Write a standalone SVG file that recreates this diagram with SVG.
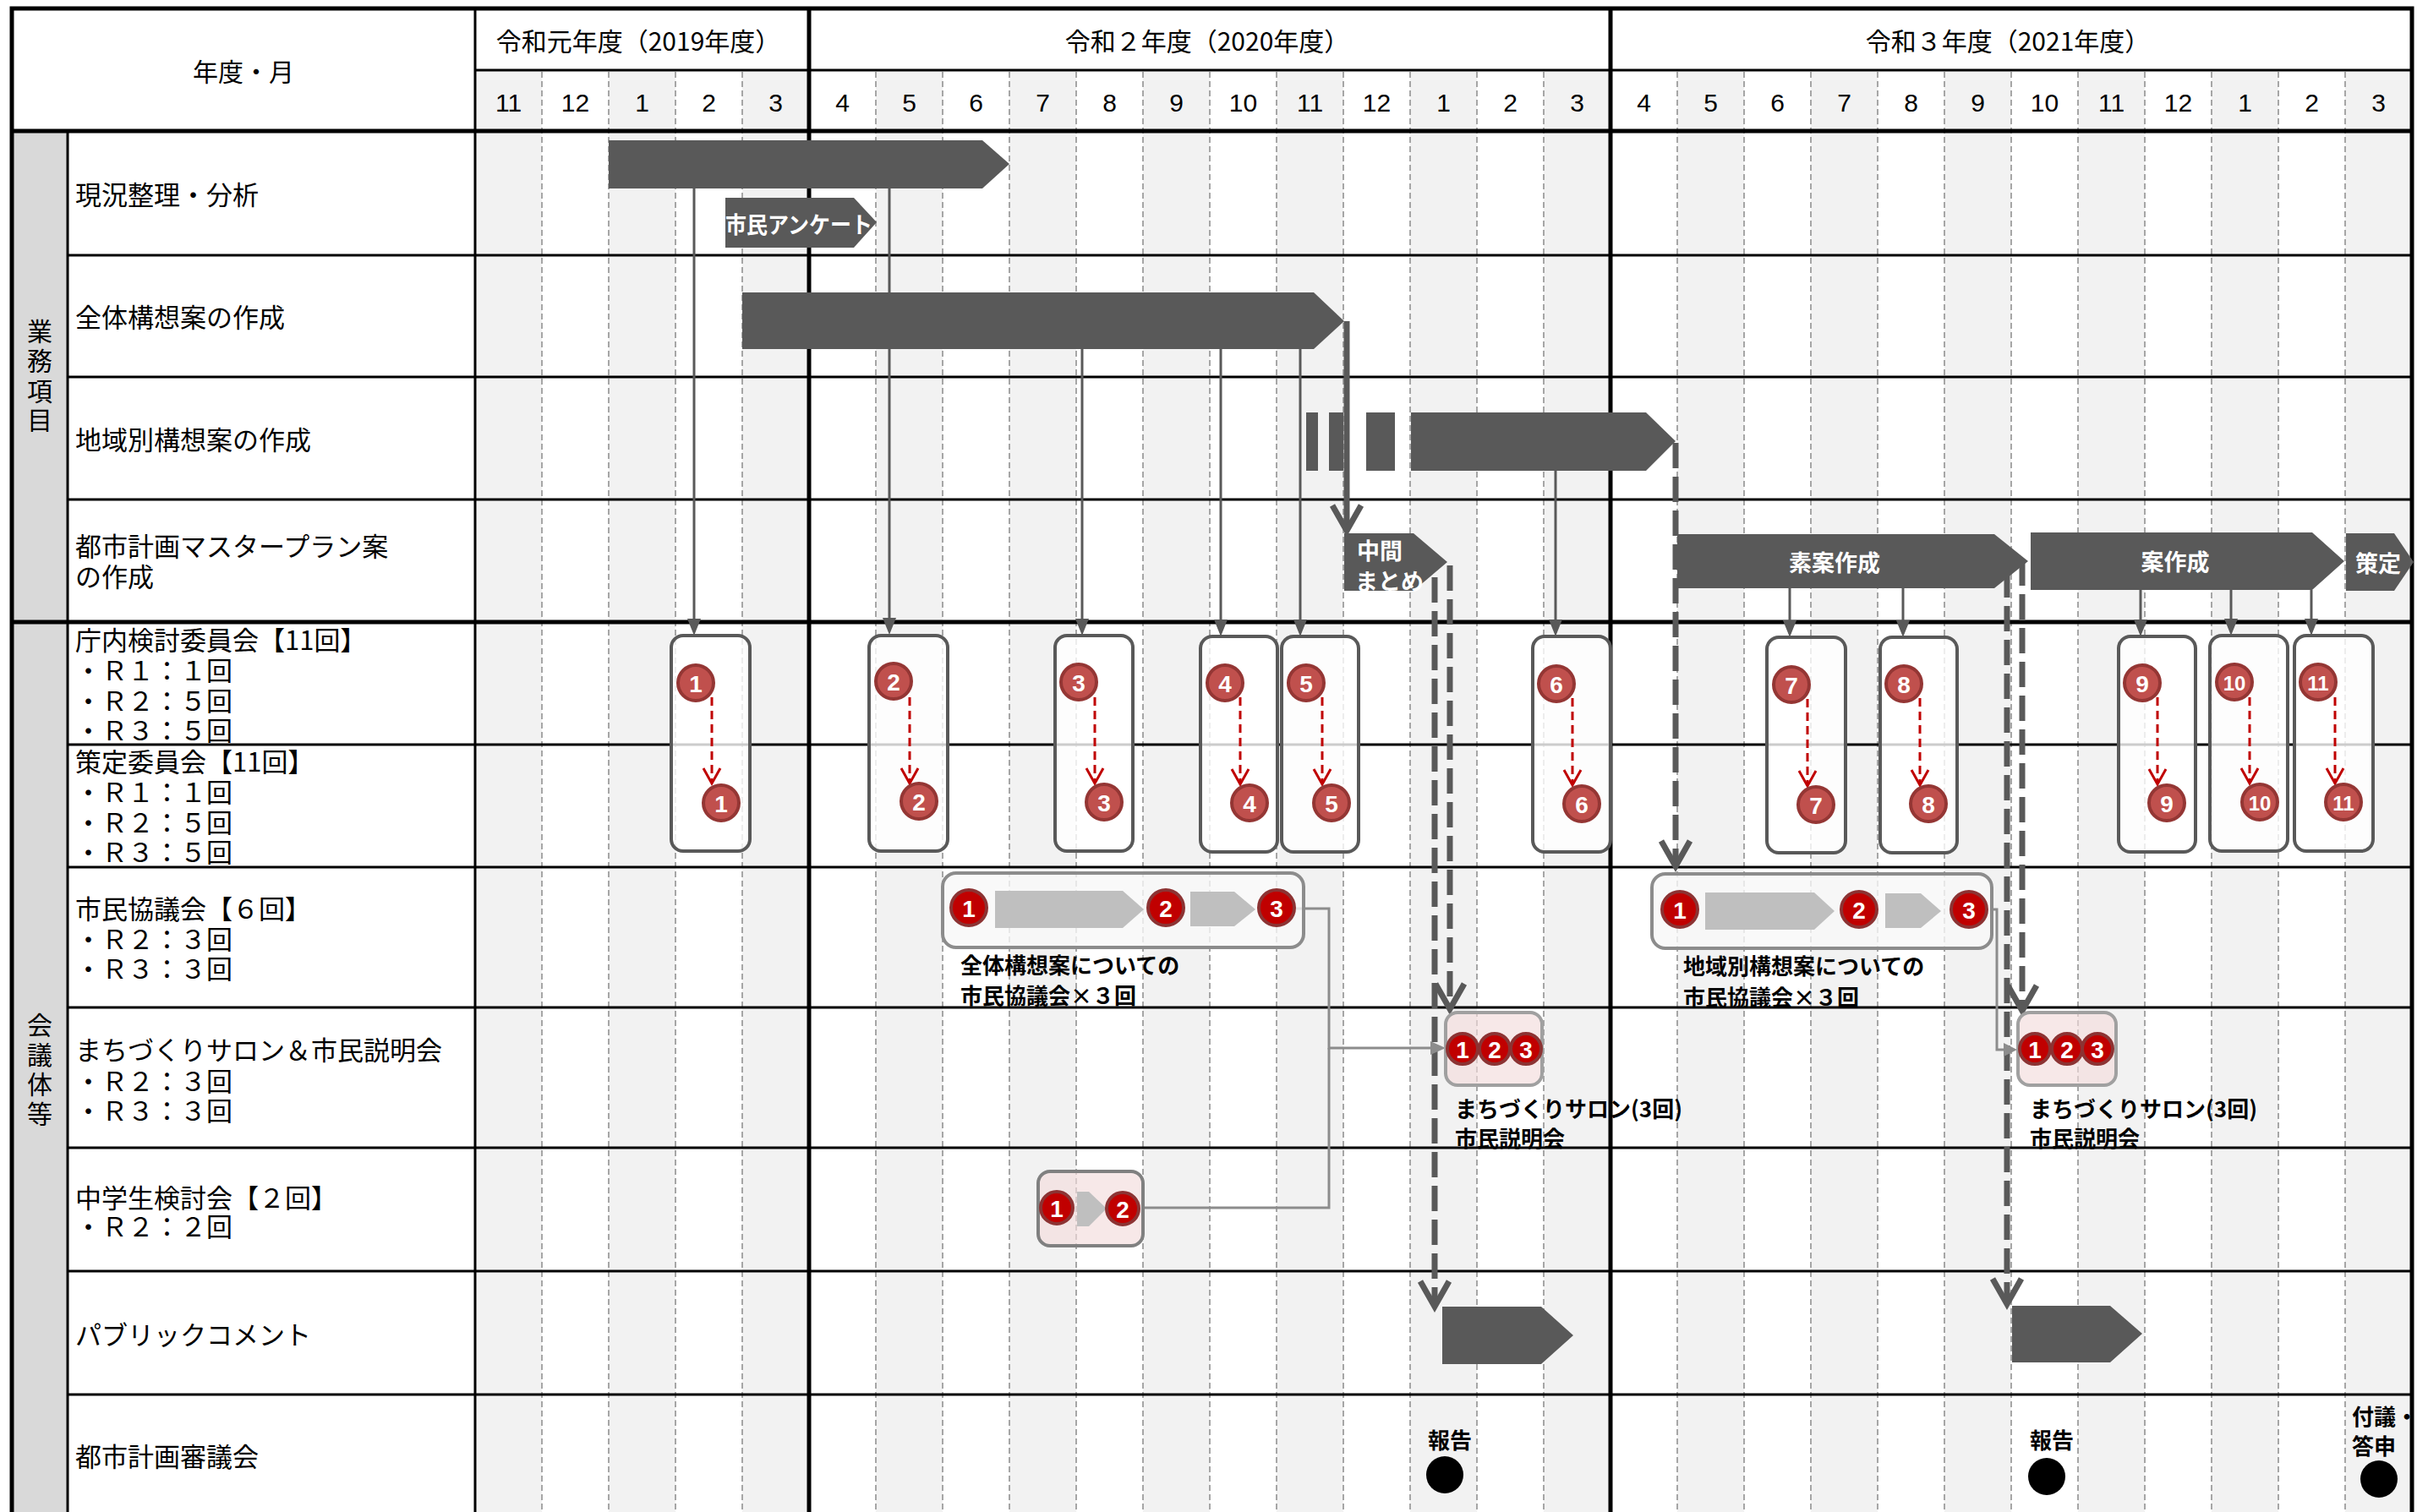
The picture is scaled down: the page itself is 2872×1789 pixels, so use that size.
<svg xmlns="http://www.w3.org/2000/svg" width="2872" height="1789" viewBox="0 0 2872 1789">
<style>
.lbl{font-family:"Noto Sans CJK JP","Noto Sans",sans-serif;font-size:31px;fill:#000;dominant-baseline:central}
.cat{font-family:"Noto Sans CJK JP",sans-serif;font-size:30px;fill:#000;text-anchor:middle;dominant-baseline:central}
.yr{font-family:"Noto Sans CJK JP",sans-serif;font-size:30px;fill:#000;text-anchor:middle;dominant-baseline:central}
.mon{font-family:"Liberation Sans Narrow","Liberation Sans",sans-serif;font-size:30px;fill:#000;text-anchor:middle;dominant-baseline:central}
.bar{fill:#595959}
.wt{font-family:"Noto Sans CJK JP",sans-serif;font-weight:bold;fill:#fff;font-size:27px;dominant-baseline:central}
.bt{font-family:"Noto Sans CJK JP",sans-serif;font-weight:bold;fill:#000;font-size:26px;dominant-baseline:central}
.shade{fill:#f2f2f2}
.mdash{stroke:#a6a6a6;stroke-width:2;stroke-dasharray:7 4}
.thick{stroke:#000;stroke-width:5}
.med{stroke:#000;stroke-width:3}
.cbox{fill:#fff;fill-opacity:0.8;stroke:#595959;stroke-width:4}
.gbox{fill:#f7f7f7;fill-opacity:0.8;stroke:#8c8c8c;stroke-width:4}
.pbox{fill:#f2dcdb;fill-opacity:0.65;stroke:#a0a0a0;stroke-width:4}
.c1{fill:#c0504d;stroke:#943634;stroke-width:4}
.c2{fill:#c00000;stroke:#8c3333;stroke-width:4}
.num{font-family:"Liberation Sans",sans-serif;font-weight:bold;fill:#fff;font-size:28px;text-anchor:middle;dominant-baseline:central}
.num2{font-family:"Liberation Sans Narrow","Liberation Sans",sans-serif;font-weight:bold;fill:#fff;font-size:24px;text-anchor:middle;dominant-baseline:central}
.garr{stroke:#595959;stroke-width:3;fill:none}
.rd{stroke:#c00000;stroke-width:3;stroke-dasharray:10 6;fill:none}
.rv{stroke:#c00000;stroke-width:3;fill:none}
.tdash{stroke:#595959;stroke-width:7;stroke-dasharray:30 10;fill:none}
.tv{stroke:#595959;stroke-width:7;fill:none;stroke-linejoin:miter}
.conn{stroke:#8c8c8c;stroke-width:3;fill:none}
.gray{fill:#bfbfbf}
</style>

<g id="grid">
  <rect x="14" y="10" width="2839" height="1782" fill="#fff"/>
  <rect x="14" y="155" width="66" height="1637" fill="#d9d9d9"/>
  <g id="shading">
    <rect class="shade" x="562" y="83" width="79" height="1709"/>
    <rect class="shade" x="720" y="83" width="79" height="1709"/>
    <rect class="shade" x="878" y="83" width="79" height="1709"/>
    <rect class="shade" x="1036" y="83" width="79" height="1709"/>
    <rect class="shade" x="1194" y="83" width="79" height="1709"/>
    <rect class="shade" x="1352" y="83" width="79" height="1709"/>
    <rect class="shade" x="1510" y="83" width="79" height="1709"/>
    <rect class="shade" x="1668" y="83" width="79" height="1709"/>
    <rect class="shade" x="1826" y="83" width="79" height="1709"/>
    <rect class="shade" x="1984" y="83" width="79" height="1709"/>
    <rect class="shade" x="2142" y="83" width="79" height="1709"/>
    <rect class="shade" x="2300" y="83" width="79" height="1709"/>
    <rect class="shade" x="2458" y="83" width="79" height="1709"/>
    <rect class="shade" x="2616" y="83" width="79" height="1709"/>
    <rect class="shade" x="2774" y="83" width="79" height="1709"/>
  </g>
  <g id="month-dashes">
    <line class="mdash" x1="641" y1="85" x2="641" y2="1792"/>
    <line class="mdash" x1="720" y1="85" x2="720" y2="1792"/>
    <line class="mdash" x1="799" y1="85" x2="799" y2="1792"/>
    <line class="mdash" x1="878" y1="85" x2="878" y2="1792"/>
    <line class="mdash" x1="1036" y1="85" x2="1036" y2="1792"/>
    <line class="mdash" x1="1115" y1="85" x2="1115" y2="1792"/>
    <line class="mdash" x1="1194" y1="85" x2="1194" y2="1792"/>
    <line class="mdash" x1="1273" y1="85" x2="1273" y2="1792"/>
    <line class="mdash" x1="1352" y1="85" x2="1352" y2="1792"/>
    <line class="mdash" x1="1431" y1="85" x2="1431" y2="1792"/>
    <line class="mdash" x1="1510" y1="85" x2="1510" y2="1792"/>
    <line class="mdash" x1="1589" y1="85" x2="1589" y2="1792"/>
    <line class="mdash" x1="1668" y1="85" x2="1668" y2="1792"/>
    <line class="mdash" x1="1747" y1="85" x2="1747" y2="1792"/>
    <line class="mdash" x1="1826" y1="85" x2="1826" y2="1792"/>
    <line class="mdash" x1="1984" y1="85" x2="1984" y2="1792"/>
    <line class="mdash" x1="2063" y1="85" x2="2063" y2="1792"/>
    <line class="mdash" x1="2142" y1="85" x2="2142" y2="1792"/>
    <line class="mdash" x1="2221" y1="85" x2="2221" y2="1792"/>
    <line class="mdash" x1="2300" y1="85" x2="2300" y2="1792"/>
    <line class="mdash" x1="2379" y1="85" x2="2379" y2="1792"/>
    <line class="mdash" x1="2458" y1="85" x2="2458" y2="1792"/>
    <line class="mdash" x1="2537" y1="85" x2="2537" y2="1792"/>
    <line class="mdash" x1="2616" y1="85" x2="2616" y2="1792"/>
    <line class="mdash" x1="2695" y1="85" x2="2695" y2="1792"/>
    <line class="mdash" x1="2774" y1="85" x2="2774" y2="1792"/>
  </g>
  <g id="rules">
    <line class="med" x1="80" y1="302" x2="2853" y2="302"/>
    <line class="med" x1="80" y1="446" x2="2853" y2="446"/>
    <line class="med" x1="80" y1="591" x2="2853" y2="591"/>
    <line class="med" x1="80" y1="881" x2="2853" y2="881"/>
    <line class="med" x1="80" y1="1026" x2="2853" y2="1026"/>
    <line class="med" x1="80" y1="1192" x2="2853" y2="1192"/>
    <line class="med" x1="80" y1="1358" x2="2853" y2="1358"/>
    <line class="med" x1="80" y1="1504" x2="2853" y2="1504"/>
    <line class="med" x1="80" y1="1650" x2="2853" y2="1650"/>
    <line class="med" x1="562" y1="83" x2="2853" y2="83"/>
    <line class="thick" x1="14" y1="155" x2="2853" y2="155"/>
    <line class="thick" x1="14" y1="736" x2="2853" y2="736"/>
    <line class="med" x1="80" y1="155" x2="80" y2="1792"/>
    <line class="med" x1="562" y1="10" x2="562" y2="1792"/>
    <line class="thick" x1="957" y1="10" x2="957" y2="1792"/>
    <line class="thick" x1="1905" y1="10" x2="1905" y2="1792"/>
    <rect x="14" y="10" width="2839" height="1782" fill="none" stroke="#000" stroke-width="5"/>
  </g>
</g>

<g id="header">
  <text class="yr" x="288" y="83">年度・月</text>
  <text class="yr" x="755" y="47">令和元年度（2019年度）</text>
  <text class="yr" x="1428" y="47">令和２年度（2020年度）</text>
  <text class="yr" x="2375" y="47">令和３年度（2021年度）</text>
  <text class="mon" x="601.5" y="121">11</text>
  <text class="mon" x="680.5" y="121">12</text>
  <text class="mon" x="759.5" y="121">1</text>
  <text class="mon" x="838.5" y="121">2</text>
  <text class="mon" x="917.5" y="121">3</text>
  <text class="mon" x="996.5" y="121">4</text>
  <text class="mon" x="1075.5" y="121">5</text>
  <text class="mon" x="1154.5" y="121">6</text>
  <text class="mon" x="1233.5" y="121">7</text>
  <text class="mon" x="1312.5" y="121">8</text>
  <text class="mon" x="1391.5" y="121">9</text>
  <text class="mon" x="1470.5" y="121">10</text>
  <text class="mon" x="1549.5" y="121">11</text>
  <text class="mon" x="1628.5" y="121">12</text>
  <text class="mon" x="1707.5" y="121">1</text>
  <text class="mon" x="1786.5" y="121">2</text>
  <text class="mon" x="1865.5" y="121">3</text>
  <text class="mon" x="1944.5" y="121">4</text>
  <text class="mon" x="2023.5" y="121">5</text>
  <text class="mon" x="2102.5" y="121">6</text>
  <text class="mon" x="2181.5" y="121">7</text>
  <text class="mon" x="2260.5" y="121">8</text>
  <text class="mon" x="2339.5" y="121">9</text>
  <text class="mon" x="2418.5" y="121">10</text>
  <text class="mon" x="2497.5" y="121">11</text>
  <text class="mon" x="2576.5" y="121">12</text>
  <text class="mon" x="2655.5" y="121">1</text>
  <text class="mon" x="2734.5" y="121">2</text>
  <text class="mon" x="2813.5" y="121">3</text>
</g>

<g id="categories">
  <text class="cat" x="47"><tspan x="47" y="390">業</tspan><tspan x="47" y="425">務</tspan><tspan x="47" y="461">項</tspan><tspan x="47" y="495">目</tspan></text>
  <text class="cat" x="47"><tspan x="47" y="1211">会</tspan><tspan x="47" y="1246">議</tspan><tspan x="47" y="1281">体</tspan><tspan x="47" y="1316">等</tspan></text>
</g>

<g id="row-labels">
  <text class="lbl" x="89" y="228">現況整理・分析</text>
  <text class="lbl" x="89" y="373">全体構想案の作成</text>
  <text class="lbl" x="89" y="518">地域別構想案の作成</text>
  <text class="lbl" x="89" y="644">都市計画マスタープラン案</text>
  <text class="lbl" x="89" y="680">の作成</text>
  <text class="lbl" x="89" y="755">庁内検討委員会【11回】</text>
  <text class="lbl" x="89" y="791">・Ｒ１：１回</text>
  <text class="lbl" x="89" y="827">・Ｒ２：５回</text>
  <text class="lbl" x="89" y="862">・Ｒ３：５回</text>
  <text class="lbl" x="89" y="899">策定委員会【11回】</text>
  <text class="lbl" x="89" y="935">・Ｒ１：１回</text>
  <text class="lbl" x="89" y="971">・Ｒ２：５回</text>
  <text class="lbl" x="89" y="1006">・Ｒ３：５回</text>
  <text class="lbl" x="89" y="1073">市民協議会【６回】</text>
  <text class="lbl" x="89" y="1109">・Ｒ２：３回</text>
  <text class="lbl" x="89" y="1144">・Ｒ３：３回</text>
  <text class="lbl" x="89" y="1240">まちづくりサロン＆市民説明会</text>
  <text class="lbl" x="89" y="1277">・Ｒ２：３回</text>
  <text class="lbl" x="89" y="1312">・Ｒ３：３回</text>
  <text class="lbl" x="89" y="1415">中学生検討会【２回】</text>
  <text class="lbl" x="89" y="1449">・Ｒ２：２回</text>
  <text class="lbl" x="89" y="1577">パブリックコメント</text>
  <text class="lbl" x="89" y="1721">都市計画審議会</text>
</g>

<g id="connectors">
  <!-- gray arrows into committee boxes -->
  <g id="box-arrows">
    <line class="garr" x1="821" y1="223" x2="821" y2="736"/><polygon class="bar" points="813,732 829,732 821,752"/>
    <line class="garr" x1="1052" y1="223" x2="1052" y2="736"/><polygon class="bar" points="1044,731 1060,731 1052,751"/>
    <line class="garr" x1="1280" y1="413" x2="1280" y2="736"/><polygon class="bar" points="1272,732 1288,732 1280,752"/>
    <line class="garr" x1="1444" y1="413" x2="1444" y2="736"/><polygon class="bar" points="1436,733 1452,733 1444,753"/>
    <line class="garr" x1="1538" y1="413" x2="1538" y2="736"/><polygon class="bar" points="1530,733 1546,733 1538,753"/>
    <line class="garr" x1="1840" y1="557" x2="1840" y2="736"/><polygon class="bar" points="1832,733 1848,733 1840,753"/>
    <line class="garr" x1="2117" y1="696" x2="2117" y2="736"/><polygon class="bar" points="2109,734 2125,734 2117,754"/>
    <line class="garr" x1="2251" y1="696" x2="2251" y2="736"/><polygon class="bar" points="2243,734 2259,734 2251,754"/>
    <line class="garr" x1="2532" y1="698" x2="2532" y2="736"/><polygon class="bar" points="2524,733 2540,733 2532,753"/>
    <line class="garr" x1="2639" y1="698" x2="2639" y2="736"/><polygon class="bar" points="2631,732 2647,732 2639,752"/>
    <line class="garr" x1="2734" y1="698" x2="2734" y2="736"/><polygon class="bar" points="2726,732 2742,732 2734,752"/>
  </g>
  <!-- thick flow lines -->
  <line x1="1593" y1="380" x2="1593" y2="626" stroke="#595959" stroke-width="7"/>
  <polyline class="tv" points="1576,598 1593,628 1610,598"/>
  <line class="tdash" x1="1697" y1="683" x2="1697" y2="1545"/>
  <polyline class="tv" points="1680,1516 1697,1546 1714,1516"/>
  <line class="tdash" x1="1715" y1="669" x2="1715" y2="1192"/>
  <polyline class="tv" points="1698,1164 1715,1194 1732,1164"/>
  <line class="tdash" x1="1982" y1="524" x2="1982" y2="1023"/>
  <polyline class="tv" points="1965,995 1982,1025 1999,995"/>
  <line class="tdash" x1="2374" y1="677" x2="2374" y2="1542"/>
  <polyline class="tv" points="2357,1513 2374,1543 2391,1513"/>
  <line class="tdash" x1="2392" y1="663" x2="2392" y2="1194"/>
  <polyline class="tv" points="2375,1166 2392,1196 2409,1166"/>
  <!-- meeting connectors -->
  <polyline class="conn" points="1532,1075 1572,1075 1572,1240 1694,1240"/>
  <polygon points="1692,1232 1710,1240 1692,1248" fill="#8c8c8c"/>
  <polyline class="conn" points="1352,1429 1572,1429 1572,1240"/>
  <polyline class="conn" points="2354,1076 2362,1076 2362,1242 2372,1242"/>
  <polygon points="2370,1234 2386,1242 2370,1250" fill="#8c8c8c"/>
</g>

<g id="bars">
  <polygon class="bar" points="720,166 1162,166 1194,194 1162,223 720,223"/>
  <g id="survey">
    <polygon class="bar" points="858,234 1010,234 1037,263 1010,293 858,293"/>
    <text class="wt" x="858" y="264" font-size="25" textLength="174" lengthAdjust="spacingAndGlyphs">市民アンケート</text>
  </g>
  <polygon class="bar" points="878,346 1554,346 1590,380 1554,413 878,413"/>
  <g id="regional">
    <rect class="bar" x="1545" y="488" width="14" height="69"/>
    <rect class="bar" x="1572" y="488" width="17" height="69"/>
    <rect class="bar" x="1616" y="488" width="34" height="69"/>
    <polygon class="bar" points="1669,488 1947,488 1982,522 1947,557 1669,557"/>
  </g>
  <g id="interim">
    <polygon class="bar" points="1590,631 1672,631 1712,665 1672,699 1590,699"/>
    <text class="wt" x="1605" y="650" font-size="26">中間</text>
    <text class="wt" x="1603" y="686" font-size="25">まとめ</text>
  </g>
  <g id="draft">
    <polygon class="bar" points="1984,632 2359,632 2399,664 2359,696 1984,696"/>
    <text class="wt" x="2170" y="664" text-anchor="middle" font-size="28">素案作成</text>
  </g>
  <g id="plan">
    <polygon class="bar" points="2402,630 2735,630 2773,664 2735,698 2402,698"/>
    <text class="wt" x="2573" y="663" text-anchor="middle" font-size="28">案作成</text>
  </g>
  <g id="decide">
    <polygon class="bar" points="2775,631 2832,631 2855,665 2832,699 2775,699"/>
    <text class="wt" x="2813" y="665" text-anchor="middle" font-size="28">策定</text>
  </g>
  <polygon class="bar" points="1706,1546 1823,1546 1861,1580 1823,1614 1706,1614"/>
  <polygon class="bar" points="2380,1545 2496,1545 2534,1578 2496,1612 2380,1612"/>
</g>

<g id="committees">
  <g id="cm1">
    <rect class="cbox" x="794" y="752" width="93" height="255" rx="14"/>
    <line class="rd" x1="842" y1="825" x2="842" y2="924"/><polyline class="rv" points="832,909 842,927 852,909"/>
    <circle class="c1" cx="823" cy="808" r="21"/><text class="num" x="823" y="809">1</text>
    <circle class="c1" cx="853" cy="950" r="21"/><text class="num" x="853" y="951">1</text>
  </g>
  <g id="cm2">
    <rect class="cbox" x="1028" y="752" width="93" height="255" rx="14"/>
    <line class="rd" x1="1076" y1="825" x2="1076" y2="924"/><polyline class="rv" points="1066,909 1076,927 1086,909"/>
    <circle class="c1" cx="1057" cy="806" r="21"/><text class="num" x="1057" y="807">2</text>
    <circle class="c1" cx="1087" cy="948" r="21"/><text class="num" x="1087" y="949">2</text>
  </g>
  <g id="cm3">
    <rect class="cbox" x="1248" y="752" width="92" height="255" rx="14"/>
    <line class="rd" x1="1295" y1="825" x2="1295" y2="924"/><polyline class="rv" points="1285,909 1295,927 1305,909"/>
    <circle class="c1" cx="1276" cy="807" r="21"/><text class="num" x="1276" y="808">3</text>
    <circle class="c1" cx="1306" cy="949" r="21"/><text class="num" x="1306" y="950">3</text>
  </g>
  <g id="cm4">
    <rect class="cbox" x="1420" y="753" width="91" height="255" rx="14"/>
    <line class="rd" x1="1467" y1="825" x2="1467" y2="925"/><polyline class="rv" points="1457,910 1467,928 1477,910"/>
    <circle class="c1" cx="1449" cy="808" r="21"/><text class="num" x="1449" y="809">4</text>
    <circle class="c1" cx="1478" cy="950" r="21"/><text class="num" x="1478" y="951">4</text>
  </g>
  <g id="cm5">
    <rect class="cbox" x="1516" y="753" width="91" height="255" rx="14"/>
    <line class="rd" x1="1564" y1="825" x2="1564" y2="925"/><polyline class="rv" points="1554,910 1564,928 1574,910"/>
    <circle class="c1" cx="1545" cy="808" r="21"/><text class="num" x="1545" y="809">5</text>
    <circle class="c1" cx="1575" cy="950" r="21"/><text class="num" x="1575" y="951">5</text>
  </g>
  <g id="cm6">
    <rect class="cbox" x="1813" y="753" width="92" height="255" rx="14"/>
    <line class="rd" x1="1860" y1="826" x2="1860" y2="926"/><polyline class="rv" points="1850,911 1860,929 1870,911"/>
    <circle class="c1" cx="1841" cy="809" r="21"/><text class="num" x="1841" y="810">6</text>
    <circle class="c1" cx="1871" cy="951" r="21"/><text class="num" x="1871" y="952">6</text>
  </g>
  <g id="cm7">
    <rect class="cbox" x="2090" y="754" width="93" height="255" rx="14"/>
    <line class="rd" x1="2138" y1="827" x2="2138" y2="927"/><polyline class="rv" points="2128,912 2138,930 2148,912"/>
    <circle class="c1" cx="2119" cy="810" r="21"/><text class="num" x="2119" y="811">7</text>
    <circle class="c1" cx="2148" cy="952" r="21"/><text class="num" x="2148" y="953">7</text>
  </g>
  <g id="cm8">
    <rect class="cbox" x="2224" y="754" width="91" height="255" rx="14"/>
    <line class="rd" x1="2271" y1="826" x2="2271" y2="926"/><polyline class="rv" points="2261,911 2271,929 2281,911"/>
    <circle class="c1" cx="2252" cy="809" r="21"/><text class="num" x="2252" y="810">8</text>
    <circle class="c1" cx="2281" cy="951" r="21"/><text class="num" x="2281" y="952">8</text>
  </g>
  <g id="cm9">
    <rect class="cbox" x="2506" y="753" width="91" height="255" rx="14"/>
    <line class="rd" x1="2552" y1="825" x2="2552" y2="925"/><polyline class="rv" points="2542,910 2552,928 2562,910"/>
    <circle class="c1" cx="2534" cy="808" r="21"/><text class="num" x="2534" y="809">9</text>
    <circle class="c1" cx="2563" cy="950" r="21"/><text class="num" x="2563" y="951">9</text>
  </g>
  <g id="cm10">
    <rect class="cbox" x="2614" y="752" width="92" height="255" rx="14"/>
    <line class="rd" x1="2661" y1="825" x2="2661" y2="924"/><polyline class="rv" points="2651,909 2661,927 2671,909"/>
    <circle class="c1" cx="2643" cy="807" r="21"/><text class="num2" x="2643" y="808">10</text>
    <circle class="c1" cx="2673" cy="949" r="21"/><text class="num2" x="2673" y="950">10</text>
  </g>
  <g id="cm11">
    <rect class="cbox" x="2714" y="752" width="93" height="255" rx="14"/>
    <line class="rd" x1="2762" y1="825" x2="2762" y2="924"/><polyline class="rv" points="2752,909 2762,927 2772,909"/>
    <circle class="c1" cx="2742" cy="807" r="21"/><text class="num2" x="2742" y="808">11</text>
    <circle class="c1" cx="2772" cy="949" r="21"/><text class="num2" x="2772" y="950">11</text>
  </g>
</g>

<g id="citizen-council-2020">
  <rect class="gbox" x="1115" y="1033" width="427" height="88" rx="16"/>
  <polygon class="gray" points="1177,1054 1328,1054 1353,1076 1328,1098 1177,1098"/>
  <polygon class="gray" points="1408,1055 1460,1055 1485,1076 1460,1096 1408,1096"/>
  <circle class="c2" cx="1146" cy="1074" r="21"/><text class="num" x="1146" y="1075">1</text>
  <circle class="c2" cx="1379" cy="1074" r="21"/><text class="num" x="1379" y="1075">2</text>
  <circle class="c2" cx="1510" cy="1074" r="21"/><text class="num" x="1510" y="1075">3</text>
  <text class="bt" x="1136" y="1140">全体構想案についての</text>
  <text class="bt" x="1136" y="1176">市民協議会×３回</text>
</g>

<g id="citizen-council-2021">
  <rect class="gbox" x="1954" y="1034" width="402" height="88" rx="16"/>
  <polygon class="gray" points="2017,1056 2146,1056 2170,1078 2146,1100 2017,1100"/>
  <polygon class="gray" points="2230,1057 2272,1057 2296,1078 2272,1098 2230,1098"/>
  <circle class="c2" cx="1987" cy="1076" r="21"/><text class="num" x="1987" y="1077">1</text>
  <circle class="c2" cx="2199" cy="1076" r="21"/><text class="num" x="2199" y="1077">2</text>
  <circle class="c2" cx="2329" cy="1076" r="21"/><text class="num" x="2329" y="1077">3</text>
  <text class="bt" x="1991" y="1141">地域別構想案についての</text>
  <text class="bt" x="1991" y="1178">市民協議会×３回</text>
</g>

<g id="salon-2020">
  <rect class="pbox" x="1710" y="1198" width="114" height="86" rx="14"/>
  <circle class="c2" cx="1730" cy="1241" r="18"/><text class="num" x="1730" y="1242" font-size="26">1</text>
  <circle class="c2" cx="1768" cy="1241" r="18"/><text class="num" x="1768" y="1242" font-size="26">2</text>
  <circle class="c2" cx="1805" cy="1241" r="18"/><text class="num" x="1805" y="1242" font-size="26">3</text>
  <text class="bt" x="1721" y="1310">まちづくりサロン(3回)</text>
  <text class="bt" x="1721" y="1345">市民説明会</text>
</g>

<g id="salon-2021">
  <rect class="pbox" x="2387" y="1198" width="116" height="86" rx="14"/>
  <circle class="c2" cx="2407" cy="1241" r="18"/><text class="num" x="2407" y="1242" font-size="26">1</text>
  <circle class="c2" cx="2445" cy="1241" r="18"/><text class="num" x="2445" y="1242" font-size="26">2</text>
  <circle class="c2" cx="2481" cy="1241" r="18"/><text class="num" x="2481" y="1242" font-size="26">3</text>
  <text class="bt" x="2401" y="1310">まちづくりサロン(3回)</text>
  <text class="bt" x="2401" y="1345">市民説明会</text>
</g>

<g id="junior-high">
  <rect class="pbox" x="1228" y="1386" width="124" height="88" rx="14" style="stroke:#808080"/>
  <polygon class="gray" points="1274,1410 1288,1410 1309,1430 1288,1451 1274,1451"/>
  <circle class="c2" cx="1250" cy="1429" r="19"/><text class="num" x="1250" y="1430">1</text>
  <circle class="c2" cx="1328" cy="1430" r="19"/><text class="num" x="1328" y="1431">2</text>
</g>

<g id="council">
  <text class="bt" x="1715" y="1702" text-anchor="middle">報告</text>
  <circle cx="1709" cy="1745" r="22" fill="#000"/>
  <text class="bt" x="2427" y="1702" text-anchor="middle">報告</text>
  <circle cx="2421" cy="1747" r="22" fill="#000"/>
  <text class="bt" x="2782" y="1674">付議・</text>
  <text class="bt" x="2782" y="1709">答申</text>
  <circle cx="2814" cy="1750" r="22" fill="#000"/>
</g>
</svg>
